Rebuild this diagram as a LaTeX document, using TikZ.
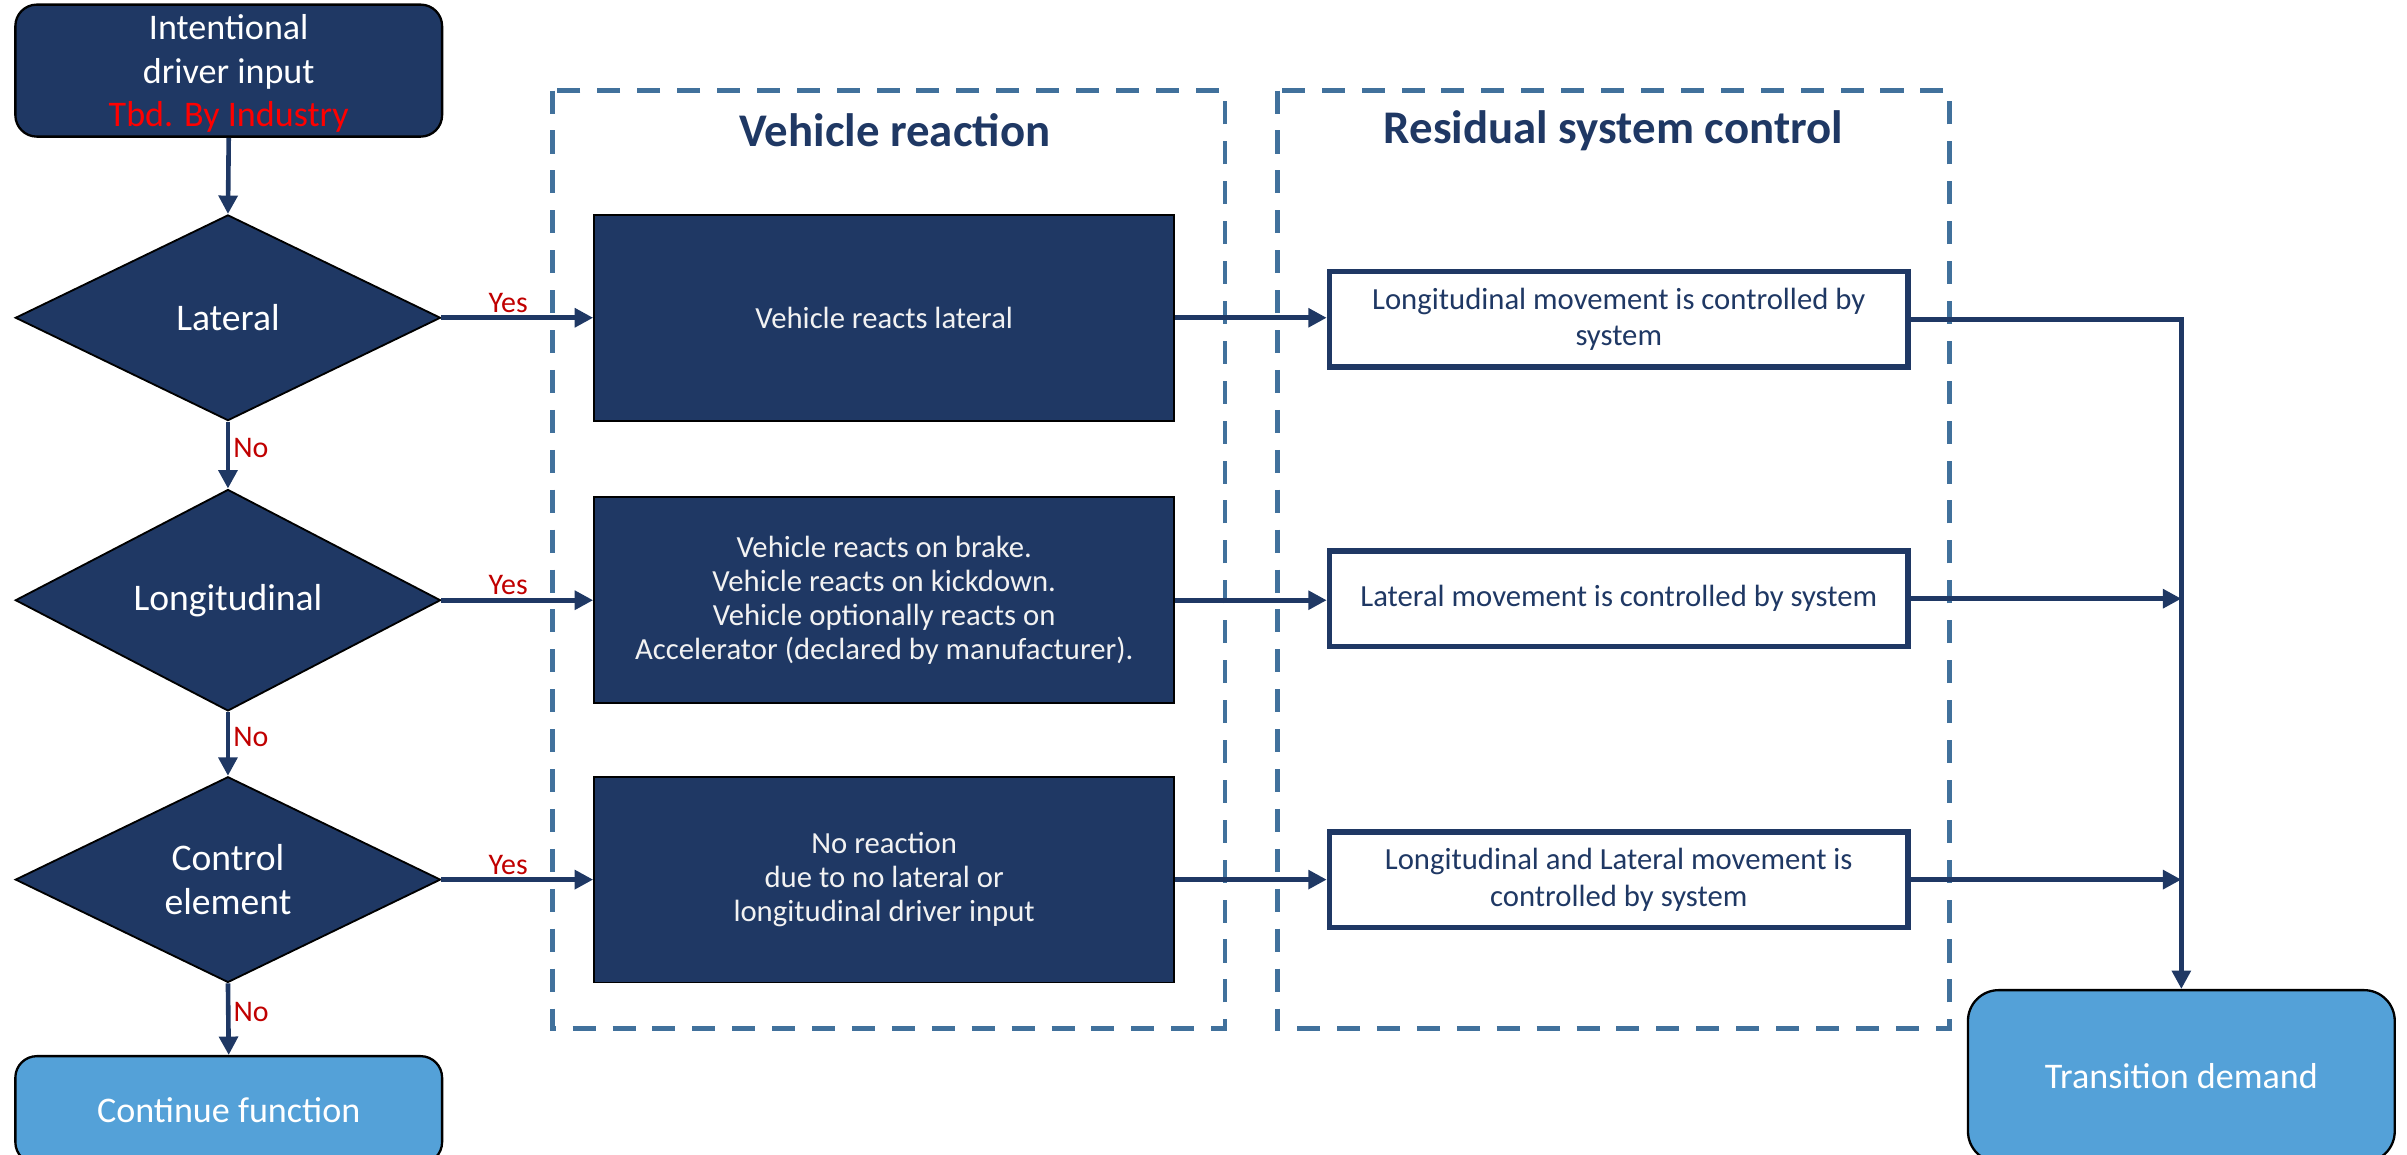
\documentclass[tikz,border=0pt]{standalone}
\usepackage{fontspec}
\setmainfont{Carlito}
\usetikzlibrary{shapes.geometric,arrows.meta,calc}
\definecolor{navy}{HTML}{1F3864}
\definecolor{dashblue}{HTML}{41719C}
\definecolor{lightblue}{HTML}{54A1D8}
\definecolor{yesred}{HTML}{C00000}
\definecolor{tbdred}{HTML}{FF0000}
\tikzset{
  decision/.style={diamond, draw=black, line width=1.2pt, fill=navy, text=white,
    minimum width=277pt, minimum height=134pt, inner sep=0pt, align=center,
    font=\fontsize{24.5}{29}\selectfont},
  react/.style={rectangle, draw=black, line width=1.2pt, fill=navy, text=white!95!black,
    minimum width=378pt, minimum height=134pt, align=center,
    font=\fontsize{20}{22}\selectfont},
  ctrl/.style={rectangle, draw=navy, line width=3.5pt, fill=white, text=navy,
    minimum width=377pt, minimum height=62pt, inner sep=0pt, align=center,
    font=\fontsize{20}{24}\selectfont},
  terminal/.style={rectangle, rounded corners=14pt, draw=black, line width=1.5pt,
    text=white, align=center, font=\fontsize{23.5}{28.5}\selectfont, inner sep=0pt},
  conn/.style={draw=navy, line width=3pt, -{Triangle[length=12pt,width=12pt]}},
  dbox/.style={draw=dashblue, line width=3pt, dash pattern=on 15pt off 11pt},
  title/.style={text=navy, font=\fontsize{30.5}{36}\selectfont\bfseries},
  yeslab/.style={text=yesred, font=\fontsize{19.5}{22}\selectfont, inner sep=2pt},
}
\begin{document}
\begin{tikzpicture}[x=1pt,y=-1pt]
\useasboundingbox (0,0) rectangle (1568,752);

% dashed group frames
\draw[dbox] (360,59) rectangle (798,670);
\draw[dbox] (832,59) rectangle (1270,670);
\node[title] (t1) at (583,85) {Vehicle reaction};
\node[title] (t2) at (1051,85) {Residual system control};

% left column
\node[terminal, fill=navy, minimum width=278pt, minimum height=86pt] (start) at (149,46)
  {\rule{0pt}{20pt}Intentional\\driver input\\\textcolor{tbdred}{Tbd. By Industry}};
\node[decision] (d1) at (148.5,207) {Lateral};
\node[decision] (d2) at (148.5,391) {Longitudinal};
\node[decision] (d3) at (148.5,573) {Control\\element};
\node[terminal, fill=lightblue, minimum width=278pt, minimum height=70pt] (cont) at (149,723)
  {Continue function};

% vehicle reaction boxes
\node[react] (v1) at (576,207) {Vehicle reacts lateral};
\node[react] (v2) at (576,391) {Vehicle reacts on brake.\\Vehicle reacts on kickdown.\\Vehicle optionally reacts on\\Accelerator (declared by manufacturer).};
\node[react] (v3) at (576,573) {No reaction\\due to no lateral or\\longitudinal driver input};

% residual system control boxes
\node[ctrl] (w1) at (1054.5,208) {Longitudinal movement is controlled by\\system};
\node[ctrl] (w2) at (1054.5,390) {Lateral movement is controlled by system};
\node[ctrl] (w3) at (1054.5,573) {Longitudinal and Lateral movement is\\controlled by system};

% transition demand
\node[terminal, fill=lightblue, rounded corners=20pt, minimum width=278pt, minimum height=112pt] (td) at (1421,701)
  {Transition demand};

% connectors
\draw[conn] (start.south) -- (d1.north);
\draw[conn] (d1.south) -- node[yeslab, pos=0.4, anchor=west] {No} (d2.north);
\draw[conn] (d2.south) -- node[yeslab, pos=0.4, anchor=west] {No} (d3.north);
\draw[conn] (d3.south) -- node[yeslab, pos=0.4, anchor=west] {No} (cont.north);

\draw[conn] (d1.east) -- node[yeslab, pos=0.44, anchor=south] {Yes} (v1.west);
\draw[conn] (d2.east) -- node[yeslab, pos=0.44, anchor=south] {Yes} (v2.west);
\draw[conn] (d3.east) -- node[yeslab, pos=0.44, anchor=south] {Yes} (v3.west);

\draw[conn] (v1.east) -- (v1.east -| w1.west);
\draw[conn] (v2.east) -- (v2.east -| w2.west);
\draw[conn] (v3.east) -- (v3.east -| w3.west);

\draw[conn] (w1.east) -- (w1.east -| td.north) -- (td.north);
\draw[conn] (w2.east) -- (w2.east -| td.north);
\draw[conn] (w3.east) -- (w3.east -| td.north);
\end{tikzpicture}
\end{document}
